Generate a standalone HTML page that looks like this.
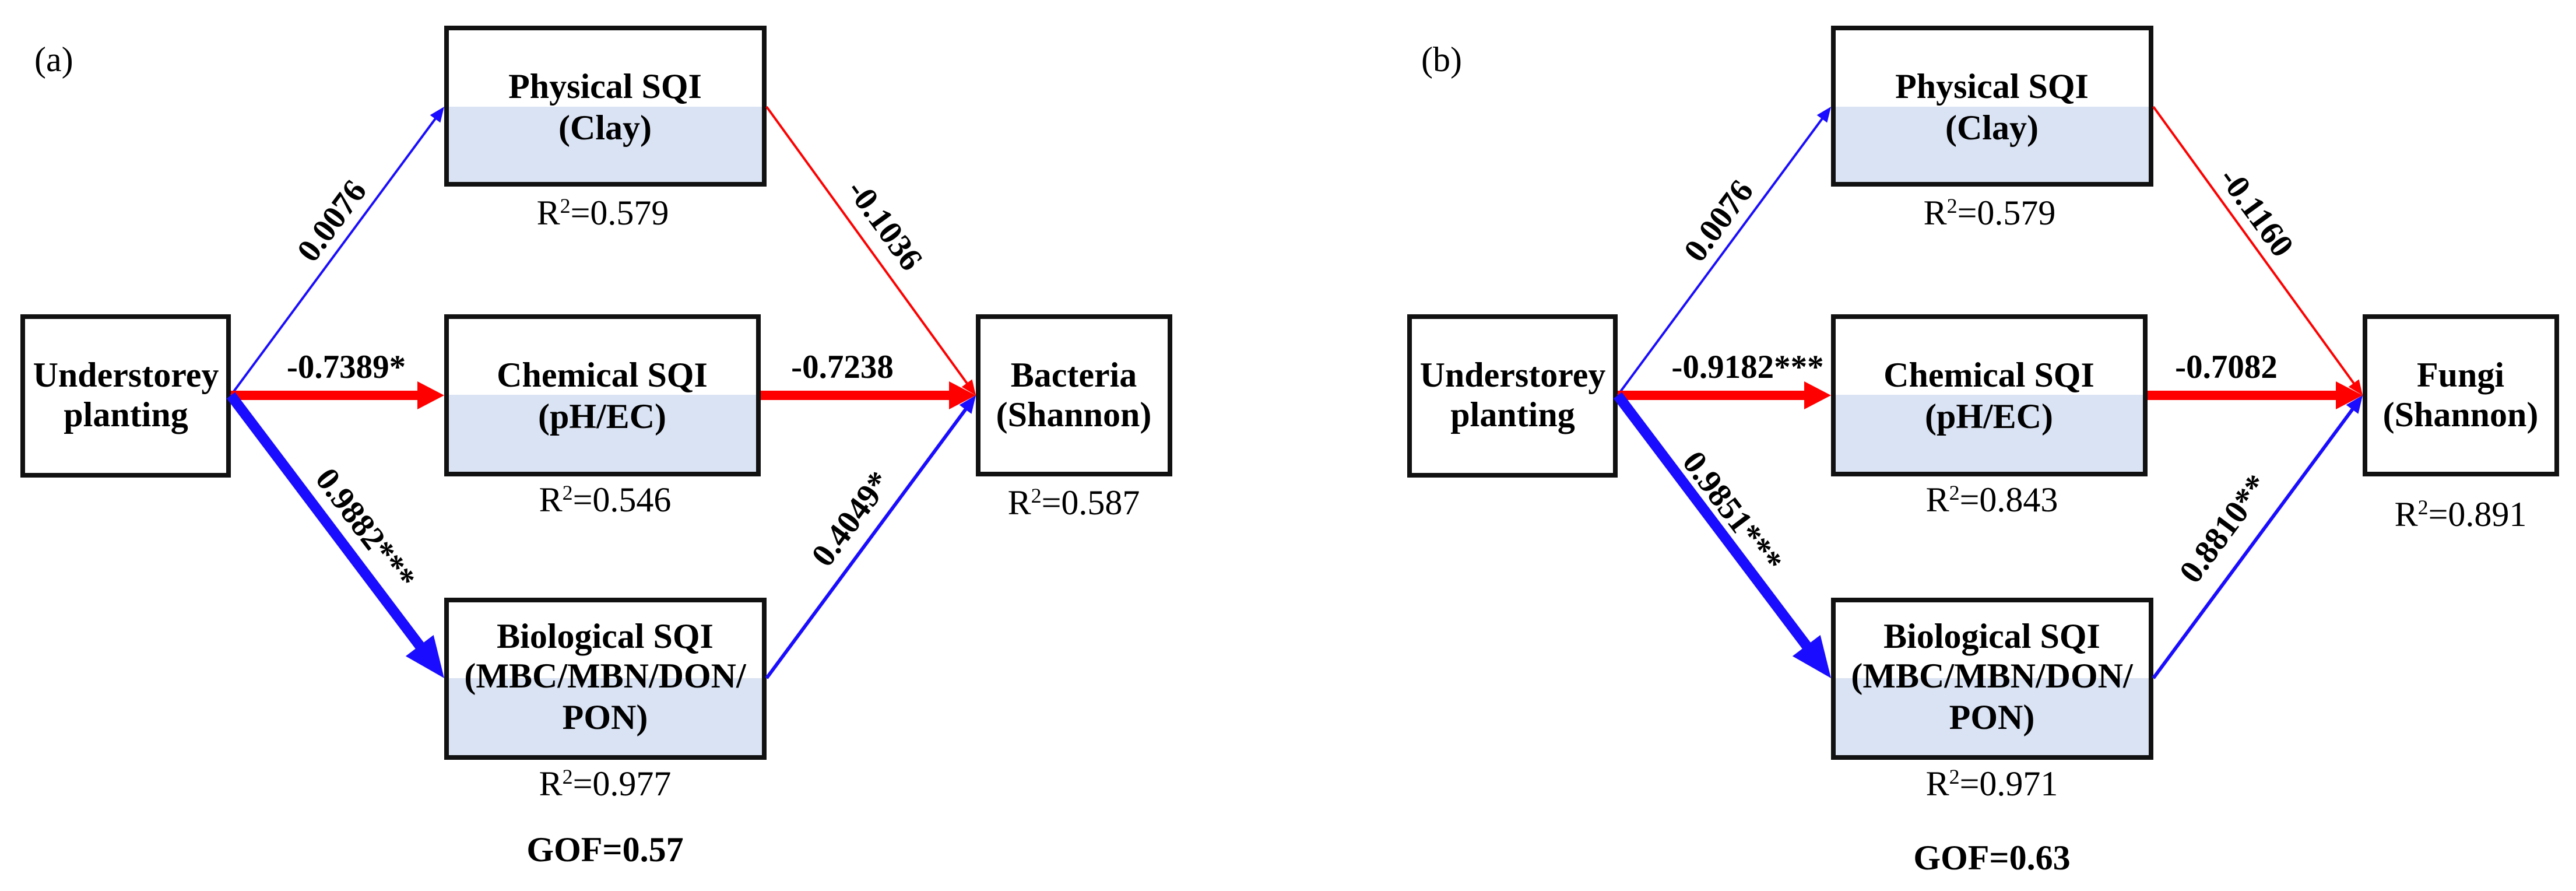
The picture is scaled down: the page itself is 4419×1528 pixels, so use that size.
<!DOCTYPE html>
<html><head><meta charset="utf-8"><style>
html,body{margin:0;padding:0;background:#fff;}
svg{display:block;}
text{font-family:"Liberation Serif","Times New Roman",serif;}
.b{font-weight:bold;font-size:60px;}
.n{font-size:60px;}
.e{font-weight:bold;font-size:57px;}
</style></head><body>
<svg width="4419" height="1528" viewBox="0 0 4419 1528" xmlns="http://www.w3.org/2000/svg">
<defs>
<g id="boxes">
  <!-- Physical -->
  <rect x="766" y="48" width="545" height="268" fill="#fff"/>
  <rect x="766" y="183" width="545" height="133" fill="#dae3f3"/>
  <rect x="766" y="48" width="545" height="268" fill="none" stroke="#111" stroke-width="8"/>
  <!-- Chemical -->
  <rect x="766" y="543" width="535" height="270" fill="#fff"/>
  <rect x="766" y="677" width="535" height="136" fill="#dae3f3"/>
  <rect x="766" y="543" width="535" height="270" fill="none" stroke="#111" stroke-width="8"/>
  <!-- Biological -->
  <rect x="766" y="1029" width="545" height="270" fill="#fff"/>
  <rect x="766" y="1163" width="545" height="136" fill="#dae3f3"/>
  <rect x="766" y="1029" width="545" height="270" fill="none" stroke="#111" stroke-width="8"/>
  <!-- Understorey -->
  <rect x="39" y="543" width="353" height="272" fill="#fff" stroke="#111" stroke-width="8"/>
  <!-- Outcome -->
  <rect x="1678" y="543" width="329" height="270" fill="#fff" stroke="#111" stroke-width="8"/>

  <!-- arrows -->
  <line x1="396" y1="678" x2="748" y2="202" stroke="#1a0dff" stroke-width="4"/>
  <polygon points="762,183 755.3,210.4 737.7,197.4" fill="#1a0dff"/>
  <line x1="396" y1="678" x2="718" y2="678" stroke="#ff0000" stroke-width="16"/>
  <polygon points="762,678 716,654 716,702" fill="#ff0000"/>
  <line x1="396" y1="678" x2="722" y2="1110" stroke="#1a0dff" stroke-width="18"/>
  <polygon points="762,1163 695.9,1125.2 743.7,1089" fill="#1a0dff"/>
  <line x1="1315" y1="183" x2="1660" y2="659" stroke="#ff0000" stroke-width="4"/>
  <polygon points="1674,678 1649.8,663.5 1667.6,650.5" fill="#ff0000"/>
  <line x1="1305" y1="678" x2="1630" y2="678" stroke="#ff0000" stroke-width="16"/>
  <polygon points="1674,678 1628,654 1628,702" fill="#ff0000"/>
  <line x1="1315" y1="1163" x2="1658" y2="700" stroke="#1a0dff" stroke-width="6"/>
  <polygon points="1674,678 1666.5,709.8 1645.7,694.4" fill="#1a0dff"/>

  <!-- box text -->
  <text class="b" x="1038" y="168" text-anchor="middle">Physical SQI</text>
  <text class="b" x="1038" y="239" text-anchor="middle">(Clay)</text>
  <text class="n" x="1034" y="385" text-anchor="middle">R<tspan font-size="36" dy="-20">2</tspan><tspan dy="20">=0.579</tspan></text>
  <text class="b" x="1033" y="663" text-anchor="middle">Chemical SQI</text>
  <text class="b" x="1033" y="734" text-anchor="middle">(pH/EC)</text>
  <text class="b" x="1038" y="1111" text-anchor="middle">Biological SQI</text>
  <text class="b" x="1038" y="1179" text-anchor="middle">(MBC/MBN/DON/</text>
  <text class="b" x="1038" y="1250" text-anchor="middle">PON)</text>
  <text class="b" x="216" y="663" text-anchor="middle">Understorey</text>
  <text class="b" x="216" y="731" text-anchor="middle">planting</text>
</g>
</defs>

<!-- Panel (a) -->
<use href="#boxes"/>
<text class="n" x="59" y="122" font-size="52">(a)</text>
<text class="n" x="1038" y="877" text-anchor="middle">R<tspan font-size="36" dy="-20">2</tspan><tspan dy="20">=0.546</tspan></text>
<text class="n" x="1038" y="1364" text-anchor="middle">R<tspan font-size="36" dy="-20">2</tspan><tspan dy="20">=0.977</tspan></text>
<text class="b" x="1842" y="663" text-anchor="middle">Bacteria</text>
<text class="b" x="1842" y="731" text-anchor="middle">(Shannon)</text>
<text class="n" x="1842" y="882" text-anchor="middle">R<tspan font-size="36" dy="-20">2</tspan><tspan dy="20">=0.587</tspan></text>
<text class="b" x="1038" y="1477" text-anchor="middle" font-size="66">GOF=0.57</text>
<text class="e" x="594" y="648" text-anchor="middle">-0.7389*</text>
<text class="e" x="1445" y="648" text-anchor="middle">-0.7238</text>
<text class="e" text-anchor="middle" transform="translate(568,378) rotate(-53.5)" y="20">0.0076</text>
<text class="e" text-anchor="middle" transform="translate(628,906) rotate(53)" y="20">0.9882***</text>
<text class="e" text-anchor="middle" transform="translate(1519,385) rotate(54)" y="20">-0.1036</text>
<text class="e" text-anchor="middle" transform="translate(1459,889) rotate(-53.5)" y="20">0.4049*</text>

<!-- Panel (b) -->
<g transform="translate(2379,0)">
<use href="#boxes"/>
<text class="n" x="59" y="122" font-size="52">(b)</text>
<text class="n" x="1038" y="877" text-anchor="middle">R<tspan font-size="36" dy="-20">2</tspan><tspan dy="20">=0.843</tspan></text>
<text class="n" x="1038" y="1364" text-anchor="middle">R<tspan font-size="36" dy="-20">2</tspan><tspan dy="20">=0.971</tspan></text>
<text class="b" x="1842" y="663" text-anchor="middle">Fungi</text>
<text class="b" x="1842" y="731" text-anchor="middle">(Shannon)</text>
<text class="n" x="1842" y="902" text-anchor="middle">R<tspan font-size="36" dy="-20">2</tspan><tspan dy="20">=0.891</tspan></text>
<text class="b" x="1038" y="1491" text-anchor="middle" font-size="66">GOF=0.63</text>
<text class="e" x="619" y="648" text-anchor="middle">-0.9182***</text>
<text class="e" x="1440" y="648" text-anchor="middle">-0.7082</text>
<text class="e" text-anchor="middle" transform="translate(568,378) rotate(-53.5)" y="20">0.0076</text>
<text class="e" text-anchor="middle" transform="translate(594,877) rotate(53)" y="20">0.9851***</text>
<text class="e" text-anchor="middle" transform="translate(1493,363) rotate(54)" y="20">-0.1160</text>
<text class="e" text-anchor="middle" transform="translate(1435,906) rotate(-53.5)" y="20">0.8810**</text>
</g>
</svg>
</body></html>
